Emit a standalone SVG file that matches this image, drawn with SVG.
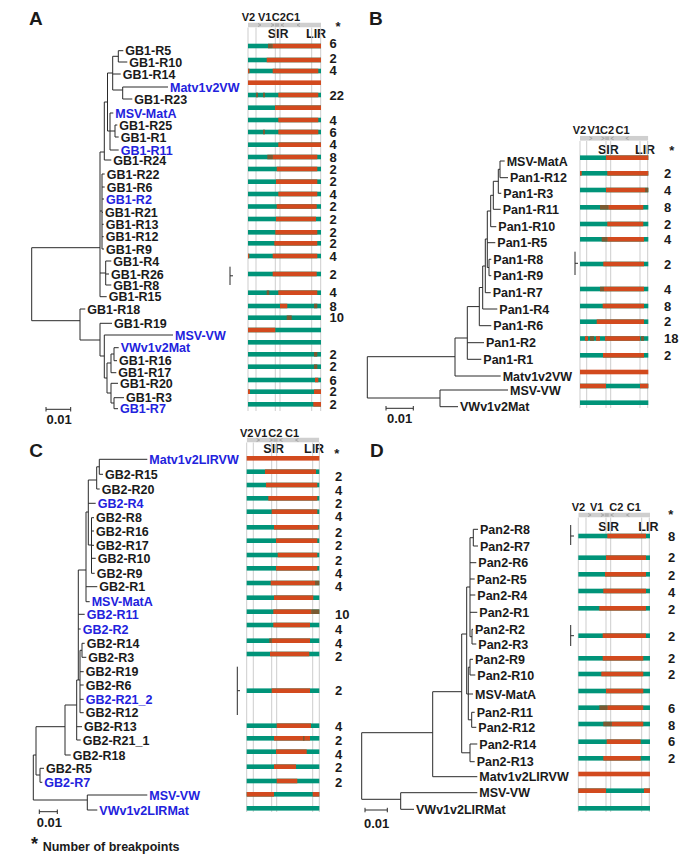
<svg xmlns="http://www.w3.org/2000/svg" xmlns:xlink="http://www.w3.org/1999/xlink" width="685" height="856" viewBox="0 0 685 856">
<defs>
<style>
text{font-family:"Liberation Sans",Arial,sans-serif;font-weight:bold;fill:#1a1a1a}
.lb{font-size:12.5px}
.bl{fill:#2222dd}
.n{font-size:13px}
.hd{font-size:11px}
.ir{font-size:12.5px}
.ast{font-size:13px;text-anchor:middle}
.pl{font-size:19px}
.tr{fill:none;stroke:#2a2a2a;stroke-width:1}
.gl{stroke:#cdcdcd;stroke-width:1}
.t{fill:#009479}
.r{fill:#d24a1e}
.m{fill:#7a5a32}
</style>
<symbol id="gm" viewBox="0 0 73 5" preserveAspectRatio="none">
<rect x="0" y="0" width="73" height="5" fill="#cfcfcf"/>
<polyline points="10,1 13,2.5 10,4" fill="none" stroke="#9a9a9a" stroke-width="0.8"/>
<polyline points="23,1 26,2.5 23,4" fill="none" stroke="#9a9a9a" stroke-width="0.8"/>
<rect x="27" y="0.8" width="4" height="3.4" fill="#b5b5b5"/>
<polyline points="36,1 33,2.5 36,4" fill="none" stroke="#9a9a9a" stroke-width="0.8"/>
<polyline points="52,1 49,2.5 52,4" fill="none" stroke="#9a9a9a" stroke-width="0.8"/>
</symbol>
</defs>
<rect width="685" height="856" fill="#ffffff"/>

<g id="headers">
<text class="pl" x="29" y="25">A</text>
<text class="pl" x="369" y="25">B</text>
<text class="pl" x="29.3" y="456.7">C</text>
<text class="pl" x="370" y="456.7">D</text>

<text class="hd" x="241.7" y="20.8">V2</text><text class="hd" x="258" y="20.8">V1</text><text class="hd" x="271.7" y="20.8">C2</text><text class="hd" x="286" y="20.8">C1</text>
<use xlink:href="#gm" href="#gm" x="248" y="22.5" width="73" height="5"/>
<text class="ir" x="267.7" y="37.5">SIR</text><text class="ir" x="306" y="37.5">LIR</text>
<text class="ast" x="338" y="30.8">*</text>

<text class="hd" x="572.7" y="134.1">V2</text><text class="hd" x="587.5" y="134.1">V1</text><text class="hd" x="600" y="134.1">C2</text><text class="hd" x="615.5" y="134.1">C1</text>
<use xlink:href="#gm" href="#gm" x="580" y="135.8" width="68.3" height="5"/>
<text class="ir" x="598" y="153.8">SIR</text><text class="ir" x="635" y="153.8">LIR</text>
<text class="ast" x="671.7" y="155.2">*</text>

<text class="hd" x="240" y="437.4">V2</text><text class="hd" x="254" y="437.4">V1</text><text class="hd" x="268.3" y="437.4">C2</text><text class="hd" x="285" y="437.4">C1</text>
<use xlink:href="#gm" href="#gm" x="246.7" y="437.5" width="72.6" height="5"/>
<text class="ir" x="263.3" y="452.8">SIR</text><text class="ir" x="304" y="452.8">LIR</text>
<text class="ast" x="336.7" y="457.5">*</text>

<text class="hd" x="571.7" y="511.4">V2</text><text class="hd" x="590" y="511.4">V1</text><text class="hd" x="609.3" y="511.4">C2</text><text class="hd" x="626.7" y="511.4">C1</text>
<use xlink:href="#gm" href="#gm" x="578.3" y="512.5" width="71.7" height="5"/>
<text class="ir" x="598.3" y="530.5">SIR</text><text class="ir" x="638.3" y="530.5">LIR</text>
<text class="ast" x="670.7" y="519.2">*</text>
</g>

<g id="gridlines">
<path class="gl" d="M248 27.5V411M256 27.5V411M275.3 27.5V411M280 27.5V411M311.7 27.5V411M320.7 27.5V411"/>
<path class="gl" d="M580 141V408M586.7 141V408M606 141V408M610.7 141V408M640 141V408M647.7 141V408"/>
<path class="gl" d="M246.7 442.5V812M253.3 442.5V812M271.7 442.5V812M276.7 442.5V812M312.7 442.5V812M319.3 442.5V812"/>
<path class="gl" d="M578.3 517.5V812M586 517.5V812M606 517.5V812M610.7 517.5V812M641.7 517.5V812M649.3 517.5V812"/>
</g>

<g id="connectors">
<path class="tr" d="M31.7 247.7V320.7M31.7 247.7H100M31.7 320.7H80
M100 152V296.7M100 152H104.3M100 211H102M100 273H105.7M100 296.7H106.7
M104.3 102V160M104.3 102H107.5M104.3 160H111.3
M107.5 73V131M107.5 73H112.7M107.5 131H110
M112.7 56.3V90M112.7 56.3H118.3M112.7 74H120.7M112.7 90H122.7
M118.3 50.7V62M118.3 50.7H123.3M118.3 62H127.3
M122.7 87V99M122.7 87H168M122.7 99H132.3
M110 113V150M110 113H113.3M110 131H115M110 150H118.7
M115 125V137M115 125H117.3M115 137H118.7
M102 174V249M102 174H104.7M102 187H104.7M102 199H104M102 212.3H103M102 224.3H103.7M102 236.7H103.7M102 249H104
M105.7 261V285M105.7 261H111.3M105.7 274H109M105.7 285H111.3
M80 309V340M80 309H85.3M80 340H100
M100 323.3V356M100 323.3H112M100 356H104.3
M104.3 335V378M104.3 335H173M104.3 378H107
M107 363V393M107 363H111M107 393H111
M111 354V372.7M111 354H114M111 372.7H116.3
M114 347.7V360.7M114 347.7H118.7M114 360.7H117
M111 383.3V403M111 383.3H118M111 403H114
M114 397.7V408.7M114 397.7H124M114 408.7H118"/>
<path class="tr" d="M367.3 356.7V398M367.3 356.7H455M367.3 398H440
M440 390V406.7M440 390H508M440 406.7H458
M455 338V376M455 338H467.3M455 376H500.7
M467.3 306.6V359.3M467.3 306.6H479.3M467.3 342.7H484M467.3 359.3H481.3
M479.3 287.5V325.7M479.3 287.5H482.7M479.3 325.7H491.3
M482.7 266V309M482.7 266H485.3M482.7 309H497.3
M485.3 239V292.7M485.3 239H487.3M485.3 292.7H490.7
M487.3 211V267.5M487.3 211H490.7M487.3 242.7H495.3M487.3 267.5H489
M489 259.3V275.7M489 259.3H491.3M489 275.7H491.3
M490.7 195.3V226.7M490.7 195.3H493.3M490.7 226.7H496.3
M493.3 181.3V209.3M493.3 181.3H498.3M493.3 209.3H500.7
M498.3 169.3V193.3M498.3 169.3H500M498.3 193.3H501.3
M500 161V177.7M500 161H504.7M500 177.7H508"/>
<path class="tr" d="M33.3 755V800M33.3 755H36M33.3 800H87.3
M36 726.7V775M36 726.7H65M36 775H40
M40 768.3V782.3M40 768.3H44M40 782.3H42.3
M65 705V755M65 705H76.7M65 755H70.7
M76.7 680V740M76.7 680H78.3M76.7 726.7H82M76.7 740H80.7
M78.3 570V680M78.3 570H86M78.3 614.3H84.7M78.3 629H80.7M78.3 680H80
M80 650.3V712.7M80 650.3H82M80 671.7H83.7M80 685H83.7M80 699.3H83.7M80 712.7H83.7
M82 643.3V657.3M82 643.3H84.7M82 657.3H86.3
M86 512V601.7M86 512H88.3M86 586.7H97.3M86 601.7H89.7
M88.3 480V545M88.3 480H96.7M88.3 503.3H95.7M88.3 545H91.5
M91.5 517.7V573.3M91.5 517.7H94M91.5 531H94M91.5 545.3H94M91.5 558.3H95.7M91.5 573.3H94.7
M96.7 466.8V489M96.7 466.8H99.3M96.7 489H99.7
M99.3 459.3V474.3M99.3 459.3H147.3M99.3 474.3H103
M87.3 795V810M87.3 795H147.3M87.3 810H97.3"/>
<path class="tr" d="M361.7 732.7V799.3M361.7 732.7H432.7M361.7 799.3H400.7
M400.7 792.7V809.3M400.7 792.7H477.3M400.7 809.3H414
M432.7 691.7V776.7M432.7 691.7H461.7M432.7 776.7H477.3
M461.7 634V752.8M461.7 634H466.7M461.7 752.8H470
M470 744V761.7M470 744H477.3M470 761.7H474.7
M466.7 587V694M466.7 587H470M466.7 694H468.3
M470 537.7V636.7M470 537.7H473.3M470 562.7H476.3M470 579H474.7M470 595H475.3M470 612.3H477.3M470 636.7H472
M473.3 529.3V546M473.3 529.3H478M473.3 546H478
M472 629.3V644M472 629.3H473M472 644H476.3
M468.3 667.2V719.8M468.3 667.2H470M468.3 694H473M468.3 719.8H471.7
M470 659.3V675M470 659.3H473M470 675H475.3
M471.7 712.3V727.3M471.7 712.3H474.7M471.7 727.3H476.3"/>
<path class="tr" d="M230 266.7V285M230 275.8H233M575 251.7V275M575 263.3H578M237.3 666.7V715M237.3 690.7H240M570.7 525V545M570.7 536H574M570.7 625V646M570.7 635.7H574"/>
<path class="tr" d="M46 409.3H70.7M46 407V411.5M70.7 407V411.5M386 408.3H413.3M386 406V410.5M413.3 406V410.5M39.3 811.7H57.3M39.3 809.5V814M57.3 809.5V814M365 810H387.3M365 807.8V812.3M387.3 807.8V812.3"/>
</g>
<g id="scales">
<text class="n" x="46.5" y="423.5">0.01</text>
<text class="n" x="387" y="423">0.01</text>
<text class="n" x="36.7" y="827">0.01</text>
<text class="n" x="364" y="828">0.01</text>
</g>

<g id="A-R5"><text class="lb" x="125.3" y="55.3">GB1-R5</text><rect class="t" x="248" y="43.7" width="73" height="4.6"/><rect class="m" x="268" y="43.7" width="4.5" height="4.6"/><rect class="r" x="272.5" y="43.7" width="48.5" height="4.6"/><text class="n" x="329.5" y="47.6">6</text></g>
<g id="A-R10"><text class="lb" x="129.3" y="66.6">GB1-R10</text><rect class="t" x="248" y="57.7" width="73" height="4.6"/><rect class="r" x="266.7" y="57.7" width="54.3" height="4.6"/><text class="n" x="329.5" y="62.9">2</text></g>
<g id="A-R14"><text class="lb" x="122.7" y="78.6">GB1-R14</text><rect class="t" x="248" y="68.7" width="73" height="4.6"/><rect class="r" x="248" y="68.7" width="1.5" height="4.6"/><rect class="r" x="272.7" y="68.7" width="45.6" height="4.6"/><text class="n" x="329.5" y="75">4</text></g>
<g id="A-Matv1v2VW"><text class="lb bl" x="170" y="91.6">Matv1v2VW</text><rect class="r" x="248" y="80.4" width="73" height="4.6"/></g>
<g id="A-R23"><text class="lb" x="134.3" y="103.6">GB1-R23</text><rect class="t" x="248" y="92.7" width="73" height="4.6"/><rect class="m" x="256" y="92.7" width="2" height="4.6"/><rect class="m" x="263" y="92.7" width="2" height="4.6"/><rect class="r" x="278.3" y="92.7" width="40" height="4.6"/><text class="n" x="329.5" y="99.8">22</text></g>
<g id="A-MSV-MatA"><text class="lb bl" x="115.3" y="117.6">MSV-MatA</text><rect class="t" x="248" y="105.4" width="73" height="4.6"/><rect class="r" x="275" y="105.4" width="46" height="4.6"/></g>
<g id="A-R25"><text class="lb" x="119.3" y="129.6">GB1-R25</text><rect class="t" x="248" y="117.7" width="73" height="4.6"/><rect class="r" x="278.3" y="117.7" width="40" height="4.6"/><text class="n" x="329.5" y="124.6">4</text></g>
<g id="A-R1"><text class="lb" x="120.7" y="141.6">GB1-R1</text><rect class="t" x="248" y="129.7" width="73" height="4.6"/><rect class="m" x="263" y="129.7" width="2" height="4.6"/><rect class="r" x="278.3" y="129.7" width="40" height="4.6"/><text class="n" x="329.5" y="136.6">6</text></g>
<g id="A-R11"><text class="lb bl" x="120.7" y="154.6">GB1-R11</text><rect class="t" x="248" y="142.4" width="73" height="4.6"/><rect class="r" x="278.3" y="142.4" width="42.7" height="4.6"/><text class="n" x="329.5" y="149.3">4</text></g>
<g id="A-R24"><text class="lb" x="113.3" y="164.6">GB1-R24</text><rect class="t" x="248" y="154.7" width="73" height="4.6"/><rect class="m" x="267.3" y="154.7" width="5.4" height="4.6"/><rect class="r" x="272.7" y="154.7" width="44.6" height="4.6"/><text class="n" x="329.5" y="161.6">8</text></g>
<g id="A-R22"><text class="lb" x="106.7" y="178.6">GB1-R22</text><rect class="t" x="248" y="166.7" width="73" height="4.6"/><rect class="r" x="276.7" y="166.7" width="40.6" height="4.6"/><text class="n" x="329.5" y="173.6">2</text></g>
<g id="A-R6"><text class="lb" x="106.7" y="191.6">GB1-R6</text><rect class="t" x="248" y="179.4" width="73" height="4.6"/><rect class="r" x="276" y="179.4" width="41.3" height="4.6"/><text class="n" x="329.5" y="186.3">2</text></g>
<g id="A-R2"><text class="lb bl" x="106" y="203.6">GB1-R2</text><rect class="t" x="248" y="191.7" width="73" height="4.6"/><rect class="r" x="278.3" y="191.7" width="39" height="4.6"/><text class="n" x="329.5" y="198.6">4</text></g>
<g id="A-R21"><text class="lb" x="105" y="216.9">GB1-R21</text><rect class="t" x="248" y="204.2" width="73" height="4.6"/><rect class="r" x="276.7" y="204.2" width="40" height="4.6"/><text class="n" x="329.5" y="211">2</text></g>
<g id="A-R13"><text class="lb" x="105.7" y="228.9">GB1-R13</text><rect class="t" x="248" y="216.7" width="73" height="4.6"/><rect class="r" x="276" y="216.7" width="40" height="4.6"/><text class="n" x="329.5" y="223.6">2</text></g>
<g id="A-R12"><text class="lb" x="105.7" y="241.3">GB1-R12</text><rect class="t" x="248" y="230" width="73" height="4.6"/><rect class="r" x="275.3" y="230" width="42" height="4.6"/><text class="n" x="329.5" y="236.9">2</text></g>
<g id="A-R9"><text class="lb" x="106" y="253.6">GB1-R9</text><rect class="t" x="248" y="241" width="73" height="4.6"/><rect class="r" x="274.3" y="241" width="43" height="4.6"/><text class="n" x="329.5" y="248">2</text></g>
<g id="A-R4"><text class="lb" x="113.3" y="265.6">GB1-R4</text><rect class="t" x="248" y="253.7" width="73" height="4.6"/><rect class="r" x="248" y="253.7" width="1.3" height="4.6"/><rect class="r" x="272.7" y="253.7" width="44.6" height="4.6"/><text class="n" x="329.5" y="260.6">4</text></g>
<g id="A-R26-R8"><text class="lb" x="111" y="278.6">GB1-R26</text><text class="lb" x="113.3" y="289.6">GB1-R8</text><rect class="t" x="248" y="271.7" width="73" height="4.6"/><rect class="r" x="272.7" y="271.7" width="44" height="4.6"/><text class="n" x="329.5" y="278.6">2</text></g>
<g id="A-R15"><text class="lb" x="108.7" y="301.3">GB1-R15</text><rect class="t" x="248" y="290.4" width="73" height="4.6"/><rect class="m" x="266.7" y="290.4" width="2.6" height="4.6"/><rect class="r" x="278.3" y="290.4" width="39" height="4.6"/><text class="n" x="329.5" y="297.3">4</text></g>
<g id="A-R18"><text class="lb" x="87.3" y="313.6">GB1-R18</text><rect class="t" x="248" y="303.7" width="73" height="4.6"/><rect class="r" x="280" y="303.7" width="7.3" height="4.6"/><rect class="m" x="314" y="303.7" width="3.3" height="4.6"/><text class="n" x="329.5" y="310.6">8</text></g>
<g id="A-R19"><text class="lb" x="114" y="327.9">GB1-R19</text><rect class="t" x="248" y="315.4" width="73" height="4.6"/><rect class="m" x="286.7" y="315.4" width="5" height="4.6"/><text class="n" x="329.5" y="322.3">10</text></g>
<g id="A-MSV-VW"><text class="lb bl" x="175" y="339.6">MSV-VW</text><rect class="t" x="248" y="327.7" width="73" height="4.6"/><rect class="r" x="248" y="327.7" width="27.3" height="4.6"/></g>
<g id="A-VWv1v2Mat"><text class="lb bl" x="120.7" y="352.3">VWv1v2Mat</text><rect class="t" x="248" y="340" width="73" height="4.6"/></g>
<g id="A-R16"><text class="lb" x="119" y="365.3">GB1-R16</text><rect class="t" x="248" y="352" width="73" height="4.6"/><rect class="m" x="314" y="352" width="3.3" height="4.6"/><text class="n" x="329.5" y="359">2</text></g>
<g id="A-R17"><text class="lb" x="118.3" y="377.3">GB1-R17</text><rect class="t" x="248" y="364.4" width="73" height="4.6"/><rect class="m" x="314" y="364.4" width="3.3" height="4.6"/><text class="n" x="329.5" y="371.3">2</text></g>
<g id="A-R20"><text class="lb" x="120" y="387.9">GB1-R20</text><rect class="t" x="248" y="377.7" width="73" height="4.6"/><rect class="r" x="315" y="377.7" width="3.3" height="4.6"/><text class="n" x="329.5" y="384.6">6</text></g>
<g id="A-R3"><text class="lb" x="126" y="402.3">GB1-R3</text><rect class="t" x="248" y="389.4" width="73" height="4.6"/><rect class="r" x="248" y="389.4" width="2" height="4.6"/><rect class="r" x="314" y="389.4" width="7" height="4.6"/><text class="n" x="329.5" y="396.3">2</text></g>
<g id="A-R7"><text class="lb bl" x="120" y="413.3">GB1-R7</text><rect class="t" x="248" y="402" width="73" height="4.6"/><rect class="r" x="313.3" y="402" width="7.7" height="4.6"/><text class="n" x="329.5" y="408.9">2</text></g>

<g id="B-MSV-MatA"><text class="lb" x="506.7" y="165.6">MSV-MatA</text><rect class="t" x="580" y="155.4" width="68.3" height="4.6"/><rect class="r" x="606" y="155.4" width="42.3" height="4.6"/></g>
<g id="B-R12"><text class="lb" x="510" y="182.3">Pan1-R12</text><rect class="t" x="580" y="171" width="68.3" height="4.6"/><rect class="r" x="580" y="171" width="1.7" height="4.6"/><rect class="r" x="607.3" y="171" width="41" height="4.6"/><text class="n" x="664" y="177.9">2</text></g>
<g id="B-R3"><text class="lb" x="503.3" y="197.9">Pan1-R3</text><rect class="t" x="580" y="187.7" width="68.3" height="4.6"/><rect class="r" x="606" y="187.7" width="39" height="4.6"/><rect class="m" x="645" y="187.7" width="3.3" height="4.6"/><text class="n" x="664" y="194.6">4</text></g>
<g id="B-R11"><text class="lb" x="502.7" y="213.9">Pan1-R11</text><rect class="t" x="580" y="205" width="68.3" height="4.6"/><rect class="m" x="600" y="205" width="8.3" height="4.6"/><rect class="r" x="608.3" y="205" width="35" height="4.6"/><text class="n" x="664" y="211.9">8</text></g>
<g id="B-R10"><text class="lb" x="498.3" y="231.3">Pan1-R10</text><rect class="t" x="580" y="221.7" width="68.3" height="4.6"/><rect class="r" x="607.3" y="221.7" width="36" height="4.6"/><text class="n" x="664" y="228.6">2</text></g>
<g id="B-R5"><text class="lb" x="497.3" y="247.3">Pan1-R5</text><rect class="t" x="580" y="237" width="68.3" height="4.6"/><rect class="m" x="601.7" y="237" width="5.6" height="4.6"/><rect class="r" x="607.3" y="237" width="36.7" height="4.6"/><text class="n" x="664" y="243.9">4</text></g>
<g id="B-R8-R9"><text class="lb" x="493.3" y="263.9">Pan1-R8</text><text class="lb" x="493.3" y="280.3">Pan1-R9</text><rect class="t" x="580" y="261.7" width="68.3" height="4.6"/><rect class="r" x="603.3" y="261.7" width="40.7" height="4.6"/><text class="n" x="664" y="268.6">2</text></g>
<g id="B-R7"><text class="lb" x="492.7" y="297.3">Pan1-R7</text><rect class="t" x="580" y="286.7" width="68.3" height="4.6"/><rect class="m" x="600" y="286.7" width="4" height="4.6"/><rect class="r" x="604" y="286.7" width="40" height="4.6"/><text class="n" x="664" y="293.6">4</text></g>
<g id="B-R4"><text class="lb" x="499.3" y="313.6">Pan1-R4</text><rect class="t" x="580" y="303.7" width="68.3" height="4.6"/><rect class="r" x="602.7" y="303.7" width="41.3" height="4.6"/><text class="n" x="664" y="310.6">8</text></g>
<g id="B-R6"><text class="lb" x="493.3" y="330.3">Pan1-R6</text><rect class="t" x="580" y="319.4" width="68.3" height="4.6"/><rect class="r" x="596.7" y="319.4" width="47.3" height="4.6"/><text class="n" x="664" y="326.3">2</text></g>
<g id="B-R2"><text class="lb" x="486" y="347.3">Pan1-R2</text><rect class="t" x="580" y="336.2" width="68.3" height="4.6"/><rect class="r" x="585" y="336.2" width="3" height="4.6"/><rect class="m" x="590" y="336.2" width="4" height="4.6"/><rect class="r" x="596" y="336.2" width="4" height="4.6"/><rect class="r" x="605" y="336.2" width="35" height="4.6"/><rect class="m" x="641" y="336.2" width="3" height="4.6"/><text class="n" x="664" y="343.1">18</text></g>
<g id="B-R1"><text class="lb" x="483.3" y="363.9">Pan1-R1</text><rect class="t" x="580" y="353" width="68.3" height="4.6"/><rect class="r" x="603" y="353" width="41" height="4.6"/><text class="n" x="664" y="359.9">2</text></g>
<g id="B-Matv1v2VW"><text class="lb" x="502.7" y="380.6">Matv1v2VW</text><rect class="r" x="580" y="369.7" width="68.3" height="4.6"/></g>
<g id="B-MSV-VW"><text class="lb" x="510" y="394.6">MSV-VW</text><rect class="t" x="580" y="383.7" width="68.3" height="4.6"/><rect class="r" x="580" y="383.7" width="26" height="4.6"/><rect class="r" x="640" y="383.7" width="8.3" height="4.6"/></g>
<g id="B-VWv1v2Mat"><text class="lb" x="460" y="411.3">VWv1v2Mat</text><rect class="t" x="580" y="400.4" width="68.3" height="4.6"/></g>

<g id="C-Matv1v2LIRVW"><text class="lb bl" x="149.3" y="463.9">Matv1v2LIRVW</text><rect class="r" x="246.7" y="456" width="72.6" height="4.6"/></g>
<g id="C-R15"><text class="lb" x="105" y="478.9">GB2-R15</text><rect class="t" x="246.7" y="469.4" width="72.6" height="4.6"/><rect class="r" x="265" y="469.4" width="51" height="4.6"/><text class="n" x="335" y="481.3">2</text></g>
<g id="C-R20"><text class="lb" x="101.7" y="493.6">GB2-R20</text><rect class="t" x="246.7" y="482.7" width="72.6" height="4.6"/><rect class="r" x="266" y="482.7" width="51.3" height="4.6"/><text class="n" x="335" y="494.6">4</text></g>
<g id="C-R4"><text class="lb bl" x="97.7" y="507.9">GB2-R4</text><rect class="t" x="246.7" y="496" width="72.6" height="4.6"/><rect class="r" x="268.3" y="496" width="49" height="4.6"/><text class="n" x="335" y="507.9">2</text></g>
<g id="C-R8"><text class="lb" x="96" y="522.3">GB2-R8</text><rect class="t" x="246.7" y="509.4" width="72.6" height="4.6"/><rect class="r" x="271.7" y="509.4" width="45.6" height="4.6"/><text class="n" x="335" y="521.3">4</text></g>
<g id="C-R16"><text class="lb" x="96" y="535.6">GB2-R16</text><rect class="t" x="246.7" y="525" width="72.6" height="4.6"/><rect class="r" x="274" y="525" width="44.3" height="4.6"/><text class="n" x="335" y="536.9">2</text></g>
<g id="C-R17"><text class="lb" x="96" y="549.9">GB2-R17</text><rect class="t" x="246.7" y="538.4" width="72.6" height="4.6"/><rect class="r" x="276" y="538.4" width="41.3" height="4.6"/><text class="n" x="335" y="550.3">2</text></g>
<g id="C-R10"><text class="lb" x="97.7" y="562.9">GB2-R10</text><rect class="t" x="246.7" y="552.7" width="72.6" height="4.6"/><rect class="r" x="277.7" y="552.7" width="39.6" height="4.6"/><text class="n" x="335" y="564.6">2</text></g>
<g id="C-R9"><text class="lb" x="96.7" y="577.9">GB2-R9</text><rect class="t" x="246.7" y="566" width="72.6" height="4.6"/><rect class="r" x="276" y="566" width="41.3" height="4.6"/><text class="n" x="335" y="577.9">4</text></g>
<g id="C-R1"><text class="lb" x="99.3" y="591.3">GB2-R1</text><rect class="t" x="246.7" y="580.7" width="72.6" height="4.6"/><rect class="r" x="270.7" y="580.7" width="44.3" height="4.6"/><rect class="m" x="315" y="580.7" width="4.3" height="4.6"/><text class="n" x="335" y="591.3">4</text></g>
<g id="C-MSV-MatA"><text class="lb bl" x="91.7" y="606.3">MSV-MatA</text><rect class="t" x="246.7" y="595.4" width="72.6" height="4.6"/><rect class="r" x="274" y="595.4" width="39.3" height="4.6"/></g>
<g id="C-R11"><text class="lb bl" x="86.7" y="618.9">GB2-R11</text><rect class="t" x="246.7" y="609.4" width="72.6" height="4.6"/><rect class="r" x="273.3" y="609.4" width="38.4" height="4.6"/><rect class="m" x="311.7" y="609.4" width="7.6" height="4.6"/><text class="n" x="335" y="618.9">10</text></g>
<g id="C-R2"><text class="lb bl" x="82.7" y="633.6">GB2-R2</text><rect class="t" x="246.7" y="622.7" width="72.6" height="4.6"/><rect class="r" x="273.3" y="622.7" width="36.7" height="4.6"/><text class="n" x="335" y="633.6">4</text></g>
<g id="C-R14"><text class="lb" x="86.7" y="647.9">GB2-R14</text><rect class="t" x="246.7" y="638.4" width="72.6" height="4.6"/><rect class="m" x="269.3" y="638.4" width="2.4" height="4.6"/><rect class="r" x="271.7" y="638.4" width="38.3" height="4.6"/><text class="n" x="335" y="647.9">4</text></g>
<g id="C-R3"><text class="lb" x="88.3" y="661.9">GB2-R3</text><rect class="t" x="246.7" y="651.7" width="72.6" height="4.6"/><rect class="r" x="270" y="651.7" width="39.3" height="4.6"/><text class="n" x="335" y="661.3">2</text></g>
<g id="C-R19-R6-R21_2-R12"><text class="lb" x="85.7" y="676.3">GB2-R19</text><text class="lb" x="85.7" y="689.6">GB2-R6</text><text class="lb bl" x="85.7" y="703.9">GB2-R21_2</text><text class="lb" x="85.7" y="717.3">GB2-R12</text><rect class="t" x="246.7" y="688.4" width="72.6" height="4.6"/><rect class="r" x="271.7" y="688.4" width="38.3" height="4.6"/><text class="n" x="335" y="695.3">2</text></g>
<g id="C-R13"><text class="lb" x="84" y="731.3">GB2-R13</text><rect class="t" x="246.7" y="723.4" width="72.6" height="4.6"/><rect class="r" x="276.7" y="723.4" width="34.3" height="4.6"/><text class="n" x="335" y="731.3">4</text></g>
<g id="C-R21_1"><text class="lb" x="82.7" y="744.6">GB2-R21_1</text><rect class="t" x="246.7" y="736" width="72.6" height="4.6"/><rect class="r" x="274" y="736" width="36" height="4.6"/><rect class="m" x="303" y="736" width="1.5" height="4.6"/><text class="n" x="335" y="744.6">2</text></g>
<g id="C-R18"><text class="lb" x="72.7" y="759.6">GB2-R18</text><rect class="t" x="246.7" y="749.4" width="72.6" height="4.6"/><rect class="r" x="276" y="749.4" width="30.7" height="4.6"/><text class="n" x="335" y="758.6">4</text></g>
<g id="C-R5"><text class="lb" x="46" y="772.9">GB2-R5</text><rect class="t" x="246.7" y="764.4" width="72.6" height="4.6"/><rect class="r" x="274" y="764.4" width="22" height="4.6"/><text class="n" x="335" y="772.3">2</text></g>
<g id="C-R7"><text class="lb bl" x="44.3" y="786.9">GB2-R7</text><rect class="t" x="246.7" y="778.7" width="72.6" height="4.6"/><rect class="r" x="276.7" y="778.7" width="20.6" height="4.6"/><text class="n" x="335" y="787.3">2</text></g>
<g id="C-MSV-VW"><text class="lb bl" x="149.3" y="799.6">MSV-VW</text><rect class="t" x="246.7" y="792" width="72.6" height="4.6"/><rect class="r" x="246.7" y="792" width="27.3" height="4.6"/><rect class="r" x="312.7" y="792" width="6.6" height="4.6"/></g>
<g id="C-VWv1v2LIRMat"><text class="lb bl" x="99.3" y="814.6">VWv1v2LIRMat</text><rect class="t" x="246.7" y="806" width="72.6" height="4.6"/></g>

<g id="D-R8-R7"><text class="lb" x="480" y="533.9">Pan2-R8</text><text class="lb" x="480" y="550.6">Pan2-R7</text><rect class="t" x="578.3" y="533.7" width="71.7" height="4.6"/><rect class="r" x="607.3" y="533.7" width="38.7" height="4.6"/><text class="n" x="668" y="541.3">8</text></g>
<g id="D-R6"><text class="lb" x="478.3" y="567.3">Pan2-R6</text><rect class="t" x="578.3" y="555.4" width="71.7" height="4.6"/><rect class="r" x="606" y="555.4" width="40" height="4.6"/><text class="n" x="668" y="562.3">2</text></g>
<g id="D-R5"><text class="lb" x="476.7" y="583.6">Pan2-R5</text><rect class="t" x="578.3" y="572" width="71.7" height="4.6"/><rect class="r" x="605" y="572" width="41" height="4.6"/><text class="n" x="668" y="579.6">2</text></g>
<g id="D-R4"><text class="lb" x="477.3" y="599.6">Pan2-R4</text><rect class="t" x="578.3" y="588.7" width="71.7" height="4.6"/><rect class="r" x="603.3" y="588.7" width="42.7" height="4.6"/><text class="n" x="668" y="596.9">4</text></g>
<g id="D-R1"><text class="lb" x="479.3" y="616.9">Pan2-R1</text><rect class="t" x="578.3" y="606" width="71.7" height="4.6"/><rect class="r" x="599.3" y="606" width="46.7" height="4.6"/><text class="n" x="668" y="613.6">2</text></g>
<g id="D-R2-R3"><text class="lb" x="475" y="633.9">Pan2-R2</text><text class="lb" x="478.3" y="648.6">Pan2-R3</text><rect class="t" x="578.3" y="633.4" width="71.7" height="4.6"/><rect class="r" x="602.7" y="633.4" width="43.3" height="4.6"/><text class="n" x="668" y="641.3">2</text></g>
<g id="D-R9"><text class="lb" x="475" y="663.9">Pan2-R9</text><rect class="t" x="578.3" y="656" width="71.7" height="4.6"/><rect class="r" x="602.7" y="656" width="40.6" height="4.6"/><text class="n" x="668" y="663.3">2</text></g>
<g id="D-R10"><text class="lb" x="477.3" y="679.6">Pan2-R10</text><rect class="t" x="578.3" y="671.7" width="71.7" height="4.6"/><rect class="r" x="601.3" y="671.7" width="42" height="4.6"/><text class="n" x="668" y="678.9">2</text></g>
<g id="D-MSV-MatA"><text class="lb" x="475" y="698.6">MSV-MatA</text><rect class="t" x="578.3" y="688.7" width="71.7" height="4.6"/><rect class="r" x="606" y="688.7" width="37.3" height="4.6"/></g>
<g id="D-R11"><text class="lb" x="476.7" y="716.9">Pan2-R11</text><rect class="t" x="578.3" y="705.4" width="71.7" height="4.6"/><rect class="m" x="599.3" y="705.4" width="8" height="4.6"/><rect class="r" x="607.3" y="705.4" width="36" height="4.6"/><text class="n" x="668" y="712.9">6</text></g>
<g id="D-R12"><text class="lb" x="478.3" y="731.9">Pan2-R12</text><rect class="t" x="578.3" y="721.7" width="71.7" height="4.6"/><rect class="m" x="603.3" y="721.7" width="8.4" height="4.6"/><rect class="r" x="611.7" y="721.7" width="31.6" height="4.6"/><text class="n" x="668" y="729.6">8</text></g>
<g id="D-R14"><text class="lb" x="479.3" y="748.6">Pan2-R14</text><rect class="t" x="578.3" y="739.4" width="71.7" height="4.6"/><rect class="r" x="606.7" y="739.4" width="34" height="4.6"/><text class="n" x="668" y="746.3">6</text></g>
<g id="D-R13"><text class="lb" x="476.7" y="766.3">Pan2-R13</text><rect class="t" x="578.3" y="756" width="71.7" height="4.6"/><rect class="r" x="603.3" y="756" width="37.4" height="4.6"/><text class="n" x="668" y="762.9">2</text></g>
<g id="D-Matv1v2LIRVW"><text class="lb" x="479.3" y="781.3">Matv1v2LIRVW</text><rect class="r" x="578.3" y="771.7" width="71.7" height="4.6"/></g>
<g id="D-MSV-VW"><text class="lb" x="479.3" y="797.3">MSV-VW</text><rect class="t" x="578.3" y="788.4" width="71.7" height="4.6"/><rect class="r" x="578.3" y="788.4" width="27.7" height="4.6"/><rect class="r" x="644" y="788.4" width="6" height="4.6"/></g>
<g id="D-VWv1v2LIRMat"><text class="lb" x="416" y="813.9">VWv1v2LIRMat</text><rect class="t" x="578.3" y="806" width="71.7" height="4.6"/></g>

<g id="footnote">
<text x="31" y="850" style="font-size:18px">*</text>
<text class="lb" x="42.7" y="850.5">Number of breakpoints</text>
</g>
</svg>
